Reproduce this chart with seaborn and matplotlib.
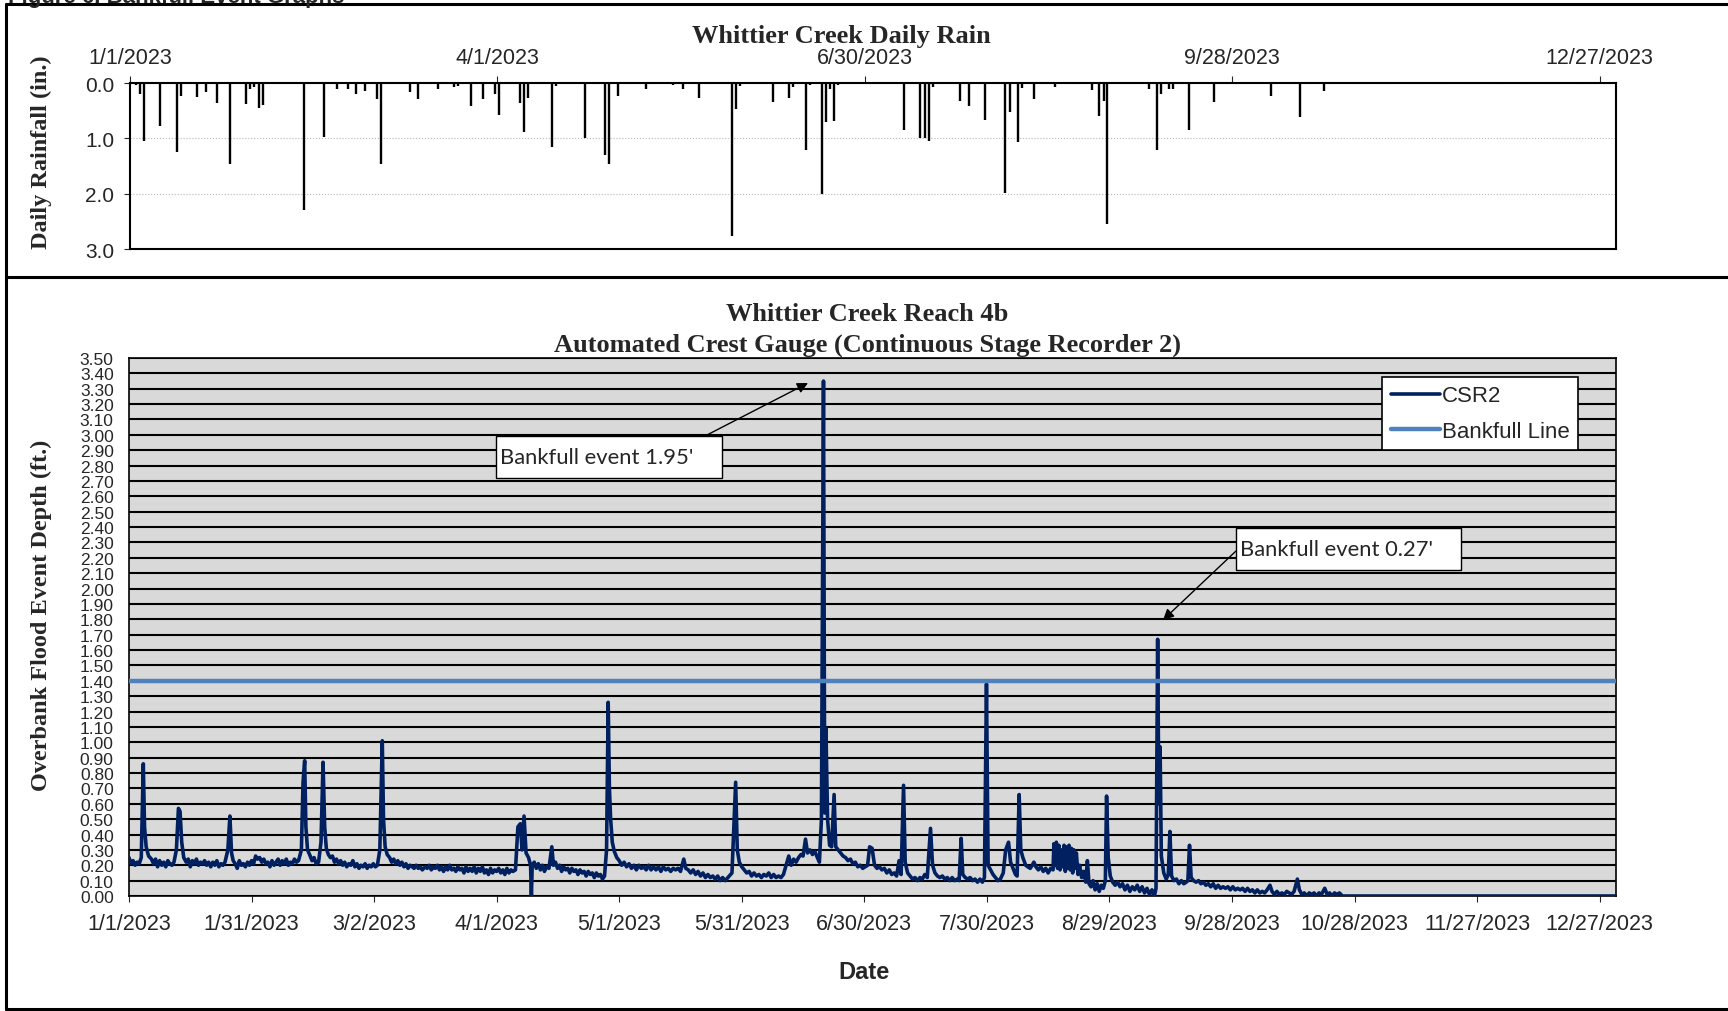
import pandas as pd
import matplotlib.pyplot as plt
from matplotlib.lines import Line2D
from matplotlib.patches import Rectangle, FancyArrowPatch
import seaborn as sns

start = pd.Timestamp("2023-01-01")
end = pd.Timestamp("2023-12-31")

# daily rain (day offset from 1/1/2023, inches)
rain_day = [1.4, 2.4, 3.5, 7.4, 11.4, 12.4, 16.5, 18.5, 21.4, 22.5,
            24.5, 28.5, 29.4, 30.3, 31.5, 32.5, 42.5, 47.5, 50.6, 53.5,
            55.4, 57.5, 60.5, 61.4, 68.5, 70.5, 71.5, 75.5, 79.4, 80.4,
            83.5, 86.5, 89.5, 90.5, 91.5, 95.5, 96.5, 97.6, 103.4, 104.4,
            111.5, 116.4, 117.4, 119.5, 126.4, 133.0, 135.4, 139.5, 146.5, 147.4,
            148.5, 149.5, 157.5, 161.5, 162.5, 165.5, 166.5, 169.4, 170.5, 171.5,
            172.5, 173.5, 189.5, 193.6, 194.7, 195.6, 196.6, 203.4, 205.4, 209.5,
            214.4, 215.5, 217.5, 218.5, 221.5, 226.5, 235.6, 237.4, 238.5, 239.4,
            240.5, 249.5, 251.5, 252.6, 254.5, 255.5, 259.5, 265.5, 279.5, 286.6,
            292.5]
rain_in = [0.04, 0.20, 1.04, 0.77, 1.24, 0.23, 0.26, 0.16, 0.37, 0.02,
           1.46, 0.38, 0.10, 0.08, 0.46, 0.39, 2.30, 0.98, 0.10, 0.10,
           0.20, 0.14, 0.29, 1.46, 0.16, 0.29, 0.01, 0.11, 0.08, 0.06,
           0.42, 0.29, 0.20, 0.58, 0.01, 0.36, 0.88, 0.27, 1.16, 0.06,
           1.00, 1.31, 1.46, 0.23, 0.11, 0.03, 0.11, 0.28, 0.02, 2.77,
           0.47, 0.05, 0.35, 0.28, 0.08, 1.21, 0.03, 2.00, 0.71, 0.11,
           0.68, 0.04, 0.85, 1.00, 1.00, 1.04, 0.08, 0.32, 0.42, 0.67,
           1.98, 0.53, 1.07, 0.09, 0.29, 0.08, 0.12, 0.60, 0.33, 2.54,
           0.02, 0.11, 1.21, 0.20, 0.10, 0.10, 0.85, 0.35, 0.23, 0.62,
           0.14]

# CSR2 stage readings (day offset, depth ft)
csr2_readings = [
    (0, 0.25), (0.5, 0.21), (1, 0.23), (1.5, 0.20), (2, 0.22), (2.5, 0.21), (3.0, 0.25),
    (3.5, 0.86), (3.8, 0.45), (4.2, 0.32), (4.8, 0.26), (5.5, 0.24), (6, 0.21), (6.5, 0.24),
    (7, 0.19), (7.5, 0.23), (8, 0.20), (8.5, 0.22), (9, 0.19), (9.5, 0.23), (10, 0.21),
    (10.5, 0.20), (11, 0.22), (11.6, 0.30), (12.1, 0.57), (12.5, 0.55), (12.9, 0.35),
    (13.4, 0.25), (14, 0.22), (14.5, 0.24), (15, 0.19), (15.5, 0.23), (16, 0.21), (16.5, 0.24),
    (17, 0.20), (17.5, 0.22), (18, 0.21), (18.5, 0.23), (19, 0.20), (19.5, 0.22), (20, 0.19),
    (20.5, 0.22), (21, 0.20), (21.5, 0.23), (22, 0.19), (22.5, 0.21), (23, 0.20), (23.5, 0.22),
    (24.2, 0.30), (24.7, 0.52), (25.1, 0.28), (25.5, 0.23), (26, 0.21), (26.5, 0.18),
    (27, 0.23), (27.5, 0.20), (28, 0.21), (28.5, 0.19), (29, 0.22), (29.5, 0.20), (30, 0.23),
    (30.5, 0.21), (31, 0.26), (31.5, 0.24), (32, 0.25), (32.5, 0.22), (33, 0.24), (33.5, 0.21),
    (34, 0.22), (34.5, 0.19), (35, 0.23), (35.5, 0.20), (36, 0.22), (36.5, 0.24), (37, 0.20),
    (37.5, 0.23), (38, 0.21), (38.5, 0.24), (39, 0.20), (39.5, 0.22), (40, 0.21), (40.5, 0.24),
    (41, 0.22), (41.5, 0.23), (42.2, 0.30), (42.6, 0.74), (43, 0.88), (43.3, 0.45), (43.7, 0.30),
    (44.2, 0.27), (44.8, 0.23), (45.3, 0.25), (45.8, 0.21), (46.4, 0.22), (47, 0.35),
    (47.5, 0.87), (47.9, 0.45), (48.3, 0.31), (48.8, 0.27), (49.3, 0.25), (49.8, 0.26),
    (50.3, 0.22), (50.8, 0.24), (51.3, 0.21), (51.8, 0.23), (52.3, 0.20), (52.8, 0.22),
    (53.3, 0.19), (53.8, 0.21), (54.3, 0.20), (54.8, 0.23), (55.3, 0.19), (55.8, 0.21),
    (56.3, 0.18), (56.8, 0.20), (57.3, 0.19), (57.8, 0.21), (58.3, 0.18), (58.8, 0.20),
    (59.3, 0.19), (59.8, 0.21), (60.3, 0.19), (60.8, 0.20), (61.4, 0.30), (62, 1.01),
    (62.3, 0.50), (62.7, 0.32), (63.2, 0.27), (63.8, 0.25), (64.3, 0.22), (64.8, 0.24),
    (65.3, 0.21), (65.8, 0.23), (66.3, 0.20), (66.8, 0.22), (67.3, 0.19), (67.8, 0.21),
    (68.3, 0.18), (68.8, 0.20), (69.3, 0.19), (69.8, 0.18), (70.3, 0.20), (70.8, 0.18),
    (71.3, 0.19), (71.8, 0.17), (72.5, 0.19), (73, 0.18), (73.5, 0.20), (74, 0.17),
    (74.5, 0.19), (75, 0.18), (75.5, 0.20), (76, 0.17), (76.5, 0.19), (77, 0.16), (77.5, 0.19),
    (78, 0.17), (78.5, 0.20), (79, 0.17), (79.5, 0.18), (80, 0.16), (80.5, 0.19), (81, 0.17),
    (81.5, 0.18), (82, 0.15), (82.5, 0.19), (83, 0.16), (83.5, 0.18), (84, 0.16), (84.5, 0.19),
    (85, 0.15), (85.5, 0.18), (86, 0.16), (86.5, 0.19), (87, 0.15), (87.5, 0.17), (88, 0.14),
    (88.5, 0.18), (89, 0.15), (89.5, 0.17), (90, 0.16), (90.5, 0.18), (91, 0.15), (91.5, 0.17),
    (92, 0.14), (92.5, 0.18), (93, 0.15), (93.5, 0.17), (94, 0.16), (94.6, 0.17), (95.2, 0.45),
    (95.8, 0.47), (96.2, 0.30), (96.7, 0.52), (97.2, 0.28), (97.8, 0.25), (98.3, 0.20),
    (98.5, 0.00), (98.7, 0.20), (99.2, 0.22), (99.7, 0.18), (100.2, 0.21), (100.7, 0.17),
    (101.2, 0.20), (101.7, 0.16), (102.2, 0.19), (102.8, 0.18), (103.5, 0.32), (103.9, 0.20),
    (104.4, 0.22), (104.9, 0.18), (105.4, 0.20), (105.9, 0.16), (106.4, 0.19), (106.9, 0.17),
    (107.4, 0.18), (107.9, 0.15), (108.4, 0.18), (108.9, 0.16), (109.4, 0.17), (109.9, 0.14),
    (110.4, 0.17), (110.9, 0.15), (111.4, 0.16), (111.9, 0.13), (112.4, 0.16), (112.9, 0.14),
    (113.4, 0.15), (113.9, 0.12), (114.4, 0.15), (114.9, 0.13), (115.4, 0.14), (115.9, 0.11),
    (116.4, 0.13), (116.9, 0.30), (117.3, 1.26), (117.6, 0.70), (117.9, 0.50), (118.3, 0.35),
    (118.8, 0.29), (119.4, 0.25), (120, 0.23), (120.6, 0.20), (121.2, 0.22), (121.8, 0.19),
    (122.4, 0.21), (123, 0.18), (123.6, 0.20), (124.2, 0.17), (124.8, 0.20), (125.4, 0.18),
    (126, 0.19), (126.6, 0.17), (127.2, 0.20), (127.8, 0.17), (128.4, 0.19), (129, 0.17),
    (129.6, 0.19), (130.2, 0.16), (130.8, 0.19), (131.4, 0.17), (132, 0.18), (132.6, 0.16),
    (133.2, 0.18), (133.8, 0.17), (134.4, 0.18), (135, 0.16), (135.8, 0.24), (136.3, 0.18),
    (136.9, 0.17), (137.5, 0.15), (138.1, 0.17), (138.7, 0.14), (139.3, 0.16), (139.9, 0.13),
    (140.5, 0.15), (141.1, 0.12), (141.7, 0.14), (142.3, 0.12), (142.9, 0.13), (143.5, 0.11),
    (144.1, 0.13), (144.7, 0.10), (145.3, 0.12), (146, 0.10), (146.6, 0.12), (147.6, 0.15),
    (148.5, 0.74), (148.9, 0.30), (149.4, 0.22), (150, 0.19), (150.6, 0.17), (151.2, 0.15),
    (151.8, 0.16), (152.4, 0.13), (153, 0.15), (153.6, 0.13), (154.2, 0.14), (154.8, 0.12),
    (155.4, 0.14), (156, 0.13), (156.6, 0.15), (157.2, 0.12), (157.8, 0.14), (158.4, 0.12),
    (159, 0.13), (159.6, 0.12), (160.2, 0.14), (161.5, 0.26), (162.1, 0.20), (162.7, 0.24),
    (163.3, 0.22), (163.9, 0.25), (164.5, 0.27), (165, 0.26), (165.6, 0.37), (166.1, 0.28),
    (166.7, 0.30), (167.3, 0.27), (167.9, 0.29), (168.5, 0.25), (169, 0.22), (169.5, 0.50),
    (170, 3.35), (170.3, 0.54), (170.6, 1.09), (171, 0.50), (171.5, 0.33), (172, 0.32),
    (172.6, 0.66), (173, 0.32), (173.6, 0.30), (174.2, 0.28), (174.8, 0.26), (175.4, 0.25),
    (176, 0.23), (176.6, 0.24), (177.2, 0.21), (177.8, 0.22), (178.4, 0.19), (179, 0.20),
    (179.6, 0.18), (180.2, 0.19), (180.8, 0.20), (181.3, 0.32), (181.9, 0.31), (182.5, 0.20),
    (183.1, 0.18), (183.7, 0.19), (184.3, 0.17), (184.9, 0.18), (185.5, 0.15), (186.1, 0.17),
    (186.7, 0.14), (187.3, 0.15), (187.9, 0.13), (188.5, 0.23), (189, 0.14), (189.6, 0.72),
    (190, 0.22), (190.6, 0.15), (191.2, 0.13), (191.8, 0.11), (192.4, 0.12), (193, 0.10),
    (193.6, 0.12), (194.2, 0.11), (194.8, 0.14), (195.4, 0.12), (196.2, 0.44), (196.7, 0.20),
    (197.3, 0.15), (197.9, 0.13), (198.5, 0.12), (199.1, 0.13), (199.7, 0.11), (200.3, 0.12),
    (200.9, 0.10), (201.5, 0.12), (202.1, 0.10), (202.7, 0.11), (203.2, 0.10), (203.7, 0.375),
    (204.1, 0.14), (204.7, 0.12), (205.3, 0.11), (205.9, 0.12), (206.5, 0.10), (207.1, 0.11),
    (207.7, 0.09), (208.3, 0.11), (208.9, 0.09), (209.4, 0.12), (209.9, 1.38), (210.3, 0.20),
    (210.9, 0.17), (211.5, 0.14), (212.1, 0.12), (212.7, 0.10), (213.3, 0.11), (214, 0.15),
    (214.6, 0.30), (215.3, 0.35), (215.8, 0.22), (216.4, 0.18), (217, 0.14), (217.4, 0.13),
    (217.9, 0.66), (218.3, 0.30), (218.8, 0.25), (219.5, 0.20), (220, 0.19), (220.6, 0.18),
    (221.1, 0.20), (221.5, 0.22), (222, 0.19), (222.6, 0.17), (223.2, 0.19), (223.8, 0.16),
    (224.4, 0.18), (225, 0.15), (225.6, 0.18), (226.2, 0.17), (226.4, 0.34), (226.7, 0.20),
    (227, 0.35), (227.3, 0.18), (227.6, 0.33), (227.9, 0.17), (228.2, 0.30), (228.5, 0.19),
    (228.9, 0.33), (229.2, 0.16), (229.5, 0.32), (229.8, 0.18), (230.1, 0.33), (230.4, 0.17),
    (230.7, 0.31), (231, 0.15), (231.3, 0.30), (231.6, 0.18), (231.9, 0.28), (232.3, 0.14),
    (232.7, 0.20), (233.2, 0.12), (233.7, 0.16), (234.2, 0.09), (234.6, 0.23), (235, 0.08),
    (235.5, 0.06), (236, 0.10), (236.5, 0.04), (237, 0.08), (237.5, 0.03), (238, 0.07),
    (238.5, 0.05), (239, 0.10), (239.3, 0.65), (239.7, 0.25), (240.2, 0.13), (240.8, 0.09),
    (241.4, 0.07), (242, 0.09), (242.6, 0.06), (243.2, 0.08), (243.8, 0.04), (244.4, 0.07),
    (245, 0.03), (245.6, 0.06), (246.2, 0.04), (246.8, 0.07), (247.4, 0.03), (248, 0.06),
    (248.6, 0.02), (249.2, 0.05), (249.8, 0.01), (250.4, 0.04), (251, 0.00), (251.4, 0.05),
    (251.8, 1.67), (252.1, 0.60), (252.4, 0.97), (252.7, 0.26), (253.3, 0.15), (253.9, 0.11),
    (254.4, 0.14), (254.8, 0.42), (255.2, 0.13), (255.8, 0.10), (256.4, 0.11), (257, 0.08),
    (257.6, 0.10), (258.2, 0.08), (258.8, 0.09), (259.2, 0.10), (259.6, 0.33), (260, 0.12),
    (260.6, 0.10), (261.2, 0.09), (261.8, 0.10), (262.4, 0.08), (263, 0.09), (263.6, 0.07),
    (264.2, 0.08), (264.8, 0.06), (265.4, 0.08), (266, 0.05), (266.6, 0.07), (267.2, 0.05),
    (267.8, 0.06), (268.4, 0.05), (269, 0.06), (269.6, 0.04), (270.2, 0.06), (270.8, 0.04),
    (271.4, 0.05), (272, 0.04), (272.6, 0.05), (273.2, 0.03), (273.8, 0.05), (274.4, 0.03),
    (275, 0.04), (275.6, 0.02), (276.2, 0.04), (276.8, 0.02), (277.4, 0.03), (278, 0.02),
    (278.6, 0.04), (279.3, 0.07), (279.8, 0.03), (280.4, 0.01), (281, 0.03), (281.6, 0.01),
    (282.2, 0.02), (282.8, 0.01), (283.4, 0.03), (284, 0.02), (284.6, 0.01), (285.2, 0.03),
    (286, 0.11), (286.5, 0.04), (287.1, 0.01), (287.7, 0.02), (288.3, 0.00), (288.9, 0.02),
    (289.5, 0.01), (290.1, 0.02), (290.7, 0.00), (291.3, 0.02), (291.9, 0.01), (292.7, 0.05),
    (293.3, 0.01), (293.9, 0.02), (294.5, 0.00), (295.1, 0.02), (295.7, 0.01), (296.3, 0.02),
    (297, 0.00), (364, 0.00),
]
bankfull_level = 1.40

rain_ticks = ["2023-01-01", "2023-04-01", "2023-06-30", "2023-09-28", "2023-12-27"]
stage_ticks = ["2023-01-01", "2023-01-31", "2023-03-02", "2023-04-01", "2023-05-01",
               "2023-05-31", "2023-06-30", "2023-07-30", "2023-08-29", "2023-09-28",
               "2023-10-28", "2023-11-27", "2023-12-27"]

rain = pd.DataFrame({"date": start + pd.to_timedelta(rain_day, unit="D"), "rain": rain_in})
csr2 = pd.DataFrame(csr2_readings, columns=["day", "depth"])
csr2["date"] = start + pd.to_timedelta(csr2["day"], unit="D")
bank = pd.DataFrame({"date": [start, end], "depth": [bankfull_level, bankfull_level]})


def mdy(s):
    d = pd.Timestamp(s)
    return f"{d.month}/{d.day}/{d.year}"


sns.set_style("white")
plt.rcParams["font.family"] = ["Liberation Sans", "DejaVu Sans"]
serif = ["Liberation Serif", "DejaVu Serif"]

W, H = 1728, 1012
fig = plt.figure(figsize=(17.28, 10.12), dpi=100)


def fbox(l, t, r, b):
    return [l / W, 1 - b / H, (r - l) / W, (b - t) / H]


def fp(x, y):
    return (x / W, 1 - y / H)


# page frames
for xs, ys in [((5.5, W), (4.7, 4.7)), ((5.5, W), (278, 278)),
               ((5.5, W), (1009.5, 1009.5)), ((5.5, 5.5), (4.7, 1009.5))]:
    fig.add_artist(Line2D([x / W for x in xs], [1 - y / H for y in ys],
                          color="black", lw=2.2, transform=fig.transFigure))
fig.text(*fp(8, 2.5), "Figure 6. Bankfull Event Graphs", fontsize=16, fontweight="bold",
         ha="left", va="baseline")

# ---- daily rain ----
ax_r = fig.add_axes(fbox(130, 84, 1616, 250))
ax_r.vlines(rain["date"], 0, rain["rain"], color="black", lw=1.7, zorder=3)
ax_r.set_xlim(start, end)
ax_r.set_ylim(3.0, 0.0)
ax_r.set_yticks([0, 1, 2, 3])
ax_r.set_yticklabels(["0.0", "1.0", "2.0", "3.0"])
ax_r.xaxis.tick_top()
ax_r.set_xticks(pd.to_datetime(rain_ticks))
ax_r.set_xticklabels([mdy(t) for t in rain_ticks])
ax_r.tick_params(axis="x", top=True, bottom=False, direction="out", length=5, width=0.8,
                 labelsize=15.5, pad=5.5)
ax_r.tick_params(axis="y", left=True, direction="out", length=4.5, width=0.8,
                 labelsize=15, pad=7)
ax_r.grid(axis="y", color="#b8b8b8", ls=":", lw=0.8)
ax_r.grid(axis="x", visible=False)
for s in ax_r.spines.values():
    s.set_color("black")
    s.set_linewidth(1.5)
fig.text(*fp(841, 43), "Whittier Creek Daily Rain", family=serif, fontweight="bold",
         fontsize=19, ha="center", va="baseline")
fig.text(*fp(41, 152), "Daily Rainfall (in.)", family=serif, fontweight="bold",
         fontsize=17.5, rotation=90, ha="center", va="center")

# ---- stage recorder ----
ax = fig.add_axes(fbox(129, 359, 1616, 897))
ax.set_facecolor("#d9d9d9")
ax.set_axisbelow(True)
sns.lineplot(data=csr2, x="date", y="depth", ax=ax, color="#002060", lw=2.6,
             estimator=None, label="CSR2", zorder=3)
sns.lineplot(data=bank, x="date", y="depth", ax=ax, color="#4f81bd", lw=3.2,
             estimator=None, label="Bankfull Line", zorder=4)
ax.set_xlim(start, end)
ax.set_ylim(0, 3.5)
yt = [i / 10 for i in range(36)]
ax.set_yticks(yt)
ax.set_yticklabels([f"{v:.2f}" for v in yt])
ax.set_xticks(pd.to_datetime(stage_ticks))
ax.set_xticklabels([mdy(t) for t in stage_ticks])
ax.tick_params(axis="x", bottom=True, direction="out", length=4.5, width=0.8,
               labelsize=15.5, pad=7.5)
ax.tick_params(axis="y", left=False, length=0, labelsize=12.5, pad=11)
ax.grid(axis="y", color="black", lw=1.5)
ax.grid(axis="x", visible=False)
for s in ax.spines.values():
    s.set_color("black")
    s.set_linewidth(1.2)
ax.set_xlabel("")
ax.set_ylabel("")

leg = ax.legend(loc="upper right", bbox_to_anchor=(0.9744, 0.9647), borderaxespad=0,
                frameon=True, fancybox=False, edgecolor="black", framealpha=1,
                fontsize=16, handlelength=2.2, handletextpad=0.1,
                labelspacing=0.65, borderpad=0.38)
leg.get_frame().set_linewidth(1.2)

fig.text(*fp(867, 321), "Whittier Creek Reach 4b", family=serif, fontweight="bold",
         fontsize=19, ha="center", va="baseline")
fig.text(*fp(867, 352), "Automated Crest Gauge (Continuous Stage Recorder 2)", family=serif,
         fontweight="bold", fontsize=19, ha="center", va="baseline")
fig.text(*fp(41, 615), "Overbank Flood Event Depth (ft.)", family=serif, fontweight="bold",
         fontsize=17.5, rotation=90, ha="center", va="center")
fig.text(*fp(864, 973), "Date", fontsize=17, fontweight="bold", ha="center", va="center")

# annotation boxes
for (l, t, r, b), txt, tail, tip in [
        ((496, 437, 722, 479), "Bankfull event 1.95'", (705, 437), (808, 384)),
        ((1236, 529, 1461, 571), "Bankfull event 0.27'", (1236, 552), (1163, 621))]:
    x0, y0 = fp(l, b)
    fig.add_artist(Rectangle((x0, y0), (r - l) / W, (b - t) / H, transform=fig.transFigure,
                             facecolor="white", edgecolor="black", lw=1, zorder=5))
    fig.text(*fp(l + 4, (t + b) / 2), txt, family=["Lato", "DejaVu Sans"], fontsize=15.8,
             ha="left", va="center", zorder=6)
    fig.add_artist(FancyArrowPatch(fp(*tail), fp(*tip), transform=fig.transFigure,
                                   arrowstyle="-|>", mutation_scale=16, lw=1,
                                   color="black", shrinkA=0, shrinkB=0, zorder=6))

fig.savefig("out.png", dpi=100)
